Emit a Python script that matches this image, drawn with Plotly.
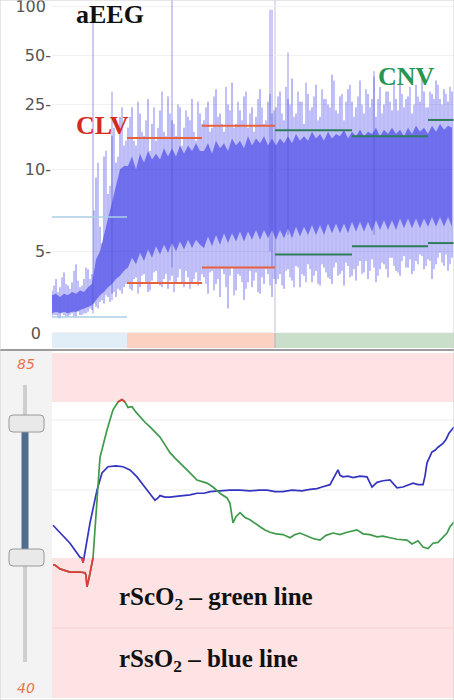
import numpy as np
import plotly.graph_objects as go

W, H = 454, 700

# ---------------- aEEG data (time index, amplitude in µV) ----------------
eeg_t = list(range(0, 401, 4))
eeg_hi = ([2.6, 3.3, 2.8, 3.7, 2.9, 3.1, 4.2, 2.8, 3.3, 3.9, 3.6]
          + [9.5, 6.5, 12, 8.5, 16, 11, 21, 14]
          + [18, 24, 14, 22, 16, 27, 19, 15, 23, 17, 28, 20, 16, 24, 18, 21, 27, 15, 22]
          + [20, 26, 18, 31, 22, 17, 25, 34, 19, 23, 28, 18, 24, 21, 31, 19, 26, 22]
          + [24, 30, 20, 27, 36, 22, 26, 19, 29, 24, 33, 21, 27, 25, 38, 23, 28, 20, 31, 26,
             24, 35, 22, 29, 27, 21, 32, 25, 30, 23, 27, 36, 24, 28, 22, 33, 26, 30, 24, 29,
             35, 27, 31, 26, 30])
eeg_lo = ([1.0, 1.1, 0.9, 1.1, 1.0, 1.2, 1.0, 1.1, 1.2, 1.3, 1.4]
          + [1.6, 1.9, 1.8, 2.2, 2.4, 2.2, 2.6, 2.8]
          + [3.0, 2.6, 3.4, 2.8, 3.6, 2.5, 3.2, 3.8, 2.9, 3.3, 2.7, 3.5, 3.0, 3.9, 2.8, 3.4, 3.1, 3.7, 3.2]
          + [3.4, 2.4, 3.8, 3.0, 2.2, 3.6, 1.5, 4.0, 2.6, 3.5, 2.0, 3.1, 2.8, 3.7, 2.4, 3.0, 3.6, 2.2]
          + [3.0, 3.6, 2.7, 3.9, 3.2, 4.1, 2.8, 3.5, 4.2, 3.1, 3.8, 2.9, 4.0, 3.4, 3.0, 4.3, 3.6, 2.9, 4.1, 3.5,
             3.2, 4.4, 3.7, 3.3, 4.5, 3.1, 3.9, 4.2, 3.4, 4.6, 3.8, 3.5, 4.7, 4.0, 3.6, 4.4, 4.8, 3.9, 4.5, 3.3,
             4.2, 4.9, 4.1, 3.8, 4.6])
eeg_t2 = list(range(2, 399, 4))
eeg_hi2 = ([2.9, 2.5, 3.4, 3.0, 2.7, 3.8, 3.2, 2.9, 4.0, 3.3]
           + [7.5, 11, 5.5, 13, 9, 18, 12, 24, 15]
           + [21, 15, 26, 17, 20, 13, 24, 18, 30, 16, 22, 19, 25, 14, 23, 20, 17, 26, 19]
           + [24, 17, 28, 21, 19, 32, 23, 18, 26, 20, 30, 22, 17, 27, 24, 20, 29, 23]
           + [28, 22, 32, 25, 21, 30, 26, 34, 23, 28, 20, 31, 27, 24, 35, 22, 29, 26, 33, 21,
              28, 25, 31, 24, 37, 27, 22, 30, 26, 34, 23, 29, 27, 32, 25, 28, 36, 24, 30, 27,
              33, 25, 29, 32])
eeg_lo2 = ([1.1, 0.9, 1.2, 1.0, 1.1, 1.0, 1.3, 1.1, 1.2, 1.5]
           + [1.8, 1.5, 2.0, 2.3, 1.9, 2.5, 2.7, 2.4, 3.0]
           + [2.7, 3.3, 2.4, 3.5, 3.0, 2.6, 3.7, 3.1, 2.8, 3.6, 3.2, 2.5, 3.4, 3.0, 3.8, 2.7, 3.3, 2.9, 3.6]
           + [3.0, 3.7, 2.6, 3.3, 3.9, 2.8, 3.5, 2.3, 3.6, 3.1, 2.7, 3.8, 3.2, 2.5, 3.4, 3.9, 2.9, 3.3]
           + [3.3, 2.9, 3.8, 3.4, 2.8, 4.0, 3.6, 3.1, 3.9, 3.5, 3.0, 4.2, 3.7, 3.3, 4.0, 3.5, 3.8, 4.3, 3.4, 3.9,
              4.1, 3.6, 4.4, 3.8, 4.0, 3.5, 4.3, 3.9, 4.6, 4.1, 3.7, 4.4, 4.0, 4.5, 3.8, 4.2, 4.7, 4.1, 4.4, 3.9,
              4.6, 4.3, 4.8, 4.2])
eeg_core_top = ([2.3, 2.4, 2.2, 2.4, 2.3, 2.5, 2.4, 2.6, 2.5, 2.8, 3.0]
                + [4.5, 5.0, 6.0, 7.0, 8.0, 9.0, 10, 10.5]
                + [10.5, 12, 10, 12.5, 11, 13, 11.5, 12.5, 11.5, 13.5, 12, 13.5, 12, 14, 12.5, 14, 13, 14.5, 13]
                + [13, 14.5, 12.5, 15, 13.5, 14.5, 13, 15.5, 14, 15, 13.5, 16, 14, 15.5, 14.5, 16, 14, 15.5]
                + [14, 15.5, 14.5, 16, 14.5, 16.5, 15, 16, 15, 17, 15.5, 16.5, 15, 17, 15.5, 16.5, 16, 17.5, 15.5, 17,
                   16, 17.5, 16, 17, 16.5, 18, 16, 17.5, 16.5, 18, 16.5, 17.5, 16, 18, 16.5, 18.5, 17, 18, 16.5, 18.5,
                   17, 19, 17.5, 18.5, 18])
eeg_core_bot = ([1.2, 1.3, 1.2, 1.3, 1.2, 1.3, 1.3, 1.4, 1.5, 1.6, 1.7]
                + [2.0, 2.3, 2.5, 2.8, 3.0, 3.3, 3.5, 3.8]
                + [4.0, 4.6, 4.2, 4.9, 4.4, 5.1, 4.6, 5.3, 4.8, 5.4, 4.9, 5.5, 5.0, 5.6, 5.1, 5.7, 5.2, 5.7, 5.4]
                + [5.2, 5.9, 5.3, 6.0, 5.4, 6.1, 5.5, 6.1, 5.6, 6.2, 5.6, 6.2, 5.7, 6.3, 5.7, 6.3, 5.8, 6.3]
                + [5.7, 6.3, 5.8, 6.4, 5.8, 6.5, 5.9, 6.5, 6.0, 6.6, 6.0, 6.6, 6.0, 6.7, 6.1, 6.7, 6.1, 6.7, 6.1, 6.8,
                   6.2, 6.8, 6.2, 6.8, 6.2, 6.9, 6.3, 6.9, 6.3, 6.9, 6.3, 7.0, 6.4, 7.0, 6.4, 7.0, 6.4, 7.0, 6.5, 7.1,
                   6.5, 7.1, 6.5, 7.1, 6.5])

# artefact spikes
art_t = [41, 60, 120, 218, 220, 236, 322]
art_hi = [100, 30, 110, 95, 95, 52, 40]
art_lo = [1.2, 2.0, 4.0, 5.0, 4.0, 6.0, 6.0]

# upper / lower margin segments
mg_start = [0, 75, 150, 223, 300, 376]
mg_end = [75, 150, 223, 300, 376, 402]
mg_upper = [7.1, 15.6, 18.5, 17.4, 16.0, 20.1]
mg_lower = [0.98, 3.06, 4.0, 4.8, 5.3, 5.5]
mg_color = ['#a9cfe6', '#e8613c', '#e8613c', '#2e7d5b', '#2e7d5b', '#2e7d5b']

# background classification strip
seg_start = [0, 75, 223]
seg_end = [75, 223, 402]
seg_color = ['#e2eef7', '#fbd2c2', '#c9dfca']

eeg_ticks = [0, 5, 10, 25, 50, 100]
eeg_ticktext = ['0\u00a0\u00a0', '5-', '10-', '25-', '50-', '100\u00a0']

# ---------------- NIRS data ----------------
rsc_t = [1, 3, 8, 18, 28, 33, 34, 35, 37, 39, 41, 48, 55, 61, 66, 70, 73, 76, 80, 84,
         88, 93, 98, 103, 108, 113, 118, 123, 128, 133, 138, 145, 150, 155, 161, 168, 175, 178, 181, 184,
         188, 193, 198, 203, 208, 213, 218, 224, 231, 238, 243, 248, 255, 261, 268, 274, 281, 288, 295, 305,
         311, 318, 325, 331, 338, 345, 355, 360, 366, 371, 376, 381, 386, 391, 395, 398, 402]
rsc_v = [59.1, 59.1, 58.6, 58.2, 58.2, 58.1, 57.8, 56.3, 57.4, 58.6, 60.0, 72.9, 76.4, 79.0, 80.0, 80.3, 80.0, 79.3, 79.4, 78.7,
         78.1, 77.4, 76.8, 76.2, 75.5, 74.5, 73.5, 72.8, 72.2, 71.5, 70.9, 70.0, 69.8, 69.6, 69.1, 68.3, 67.7, 67.0, 64.5, 65.3,
         65.8, 65.2, 64.9, 64.4, 64.0, 63.6, 63.3, 63.1, 63.0, 62.6, 63.0, 63.2, 62.8, 62.5, 62.3, 62.9, 63.2, 63.0, 63.3, 63.6,
         63.1, 63.0, 62.7, 62.8, 62.6, 62.4, 62.3, 61.8, 62.2, 61.4, 61.2, 61.9, 62.0, 62.7, 63.2, 64.0, 64.6]
rss_t = [1, 8, 18, 28, 30, 31, 32, 38, 45, 50, 56, 64, 71, 78, 85, 91, 98, 103, 106, 108,
         113, 118, 124, 131, 138, 145, 152, 158, 168, 178, 188, 198, 207, 215, 223, 231, 240, 250, 258, 265,
         270, 278, 286, 288, 291, 296, 301, 308, 315, 320, 325, 331, 338, 345, 351, 356, 361, 366, 371, 373,
         375, 380, 383, 386, 391, 394, 397, 402]
rss_v = [64.2, 63.2, 61.9, 60.1, 60.0, 59.4, 60.0, 64.5, 68.7, 70.9, 71.7, 71.8, 71.7, 71.3, 70.4, 69.4, 68.3, 67.4, 67.7, 68.0,
         67.8, 67.8, 67.9, 68.0, 68.1, 68.3, 68.3, 68.5, 68.6, 68.7, 68.7, 68.6, 68.7, 68.7, 68.5, 68.5, 68.7, 68.6, 68.8, 68.9,
         69.1, 69.4, 71.3, 70.6, 70.4, 70.5, 70.3, 70.5, 70.4, 69.1, 69.7, 69.9, 70.0, 69.0, 69.1, 69.3, 69.6, 69.4, 69.4, 70.5,
         72.2, 73.6, 73.8, 74.2, 74.7, 75.2, 76.0, 76.8]
nirs_low_thr = 60
nirs_high_thr = 80


def aeeg_scale(v):
    v = np.asarray(v, dtype=float)
    return np.where(v <= 10, v / 10.0, 1 + np.log10(np.maximum(v, 10) / 10.0))


def px(x):
    return x / W


def py(y):
    return 1 - y / H


def segs(xs, y0s, y1s):
    X, Y = [], []
    for x, a, b in zip(xs, y0s, y1s):
        X += [x, x, None]
        Y += [a, b, None]
    return X, Y


def hsegs(x0s, x1s, ys):
    X, Y = [], []
    for a, b, y in zip(x0s, x1s, ys):
        X += [a, b, None]
        Y += [y, y, None]
    return X, Y


def alarm(vals):
    return [v if (v <= nirs_low_thr or v >= nirs_high_thr) else None for v in vals]


fig = go.Figure()

# core band of aEEG
fig.add_trace(go.Scatter(x=eeg_t, y=aeeg_scale(eeg_core_bot), mode='lines', line=dict(width=0, color='rgba(0,0,0,0)'),
                         hoverinfo='skip', showlegend=False, xaxis='x', yaxis='y'))
fig.add_trace(go.Scatter(x=eeg_t, y=aeeg_scale(eeg_core_top), mode='lines', line=dict(width=0, color='rgba(0,0,0,0)'),
                         fill='tonexty', fillcolor='rgba(30,30,225,0.5)', hoverinfo='skip', showlegend=False,
                         xaxis='x', yaxis='y'))
# min-max streaks
sx, sy = segs(eeg_t, aeeg_scale(eeg_lo), aeeg_scale(eeg_hi))
fig.add_trace(go.Scatter(x=sx, y=sy, mode='lines', line=dict(width=1, color='rgba(35,35,232,0.62)'),
                         hoverinfo='skip', showlegend=False, xaxis='x', yaxis='y'))
sx2, sy2 = segs(eeg_t2, aeeg_scale(eeg_lo2), aeeg_scale(eeg_hi2))
fig.add_trace(go.Scatter(x=sx2, y=sy2, mode='lines', line=dict(width=1, color='rgba(35,35,232,0.55)'),
                         hoverinfo='skip', showlegend=False, xaxis='x', yaxis='y'))
ax, ay = segs(art_t, aeeg_scale(art_lo), aeeg_scale(art_hi))
fig.add_trace(go.Scatter(x=ax, y=ay, mode='lines', line=dict(width=1, color='rgba(80,80,220,0.6)'),
                         hoverinfo='skip', showlegend=False, xaxis='x', yaxis='y'))
# margins
for c in dict.fromkeys(mg_color):
    idx = [i for i, cc in enumerate(mg_color) if cc == c]
    X1, Y1 = hsegs([mg_start[i] for i in idx], [mg_end[i] for i in idx], aeeg_scale([mg_upper[i] for i in idx]))
    X2, Y2 = hsegs([mg_start[i] for i in idx], [mg_end[i] for i in idx], aeeg_scale([mg_lower[i] for i in idx]))
    fig.add_trace(go.Scatter(x=X1 + X2, y=list(Y1) + list(Y2), mode='lines',
                             line=dict(width=1.5 if c == '#a9cfe6' else 2, color=c),
                             hoverinfo='skip', showlegend=False, xaxis='x', yaxis='y'))

# NIRS lines
fig.add_trace(go.Scatter(x=rss_t, y=rss_v, mode='lines', line=dict(width=1.7, color='#3434c0'),
                         showlegend=False, xaxis='x2', yaxis='y2'))
fig.add_trace(go.Scatter(x=rsc_t, y=rsc_v, mode='lines', line=dict(width=1.7, color='#3f9a4c'),
                         showlegend=False, xaxis='x2', yaxis='y2'))
fig.add_trace(go.Scatter(x=rss_t, y=alarm(rss_v), mode='lines', line=dict(width=1.7, color='#e23a3a'),
                         connectgaps=False, showlegend=False, xaxis='x2', yaxis='y2'))
fig.add_trace(go.Scatter(x=rsc_t, y=alarm(rsc_v), mode='lines', line=dict(width=1.7, color='#e23a3a'),
                         connectgaps=False, showlegend=False, xaxis='x2', yaxis='y2'))

shapes = []
# left slider background
shapes.append(dict(type='rect', xref='paper', yref='paper', x0=0, x1=px(52), y0=py(698), y1=py(351),
                   fillcolor='#f3f3f3', line=dict(width=0), layer='below'))
# classification strip
for a, b, c in zip(seg_start, seg_end, seg_color):
    shapes.append(dict(type='rect', xref='x', yref='y domain', x0=a, x1=b, y0=0, y1=15 / 348,
                       fillcolor=c, line=dict(width=0), layer='below'))
# segment boundary
shapes.append(dict(type='line', xref='x', yref='y domain', x0=seg_start[2], x1=seg_start[2], y0=0, y1=1,
                   line=dict(color='rgba(150,150,195,0.6)', width=1), layer='below'))
# NIRS alarm bands
shapes.append(dict(type='rect', xref='x2 domain', yref='y2', x0=0, x1=1, y0=nirs_high_thr, y1=86.28,
                   fillcolor='#fde3e3', line=dict(width=0), layer='below'))
shapes.append(dict(type='rect', xref='x2 domain', yref='y2', x0=0, x1=1, y0=42.05, y1=nirs_low_thr,
                   fillcolor='#fde3e3', line=dict(width=0), layer='below'))
for yy, col in [(0.806, '#ececec'), (0.603, '#ececec'), (0.203, '#f6d3d3')]:
    shapes.append(dict(type='line', xref='x2 domain', yref='y2 domain', x0=0, x1=1, y0=yy, y1=yy,
                       line=dict(color=col, width=1), layer='below'))
# separator
shapes.append(dict(type='line', xref='paper', yref='paper', x0=0, x1=1, y0=py(350), y1=py(350),
                   line=dict(color='#9c9c9c', width=2)))
# frame
shapes.append(dict(type='rect', xref='paper', yref='paper', x0=0, x1=1, y0=0, y1=1,
                   line=dict(color='#cfcfcf', width=1)))
# slider track
shapes.append(dict(type='line', xref='paper', yref='paper', x0=px(25), x1=px(25), y0=py(385), y1=py(662),
                   line=dict(color='#cfcfcf', width=4)))
shapes.append(dict(type='line', xref='paper', yref='paper', x0=px(25), x1=px(25), y0=py(430), y1=py(551),
                   line=dict(color='#4f6d8c', width=7)))


def handle(y0, y1):
    x0, x1 = 9, 44
    r = 4
    path = (f"M {px(x0 + r)} {py(y0)} L {px(x1 - r)} {py(y0)} Q {px(x1)} {py(y0)} {px(x1)} {py(y0 + r)} "
            f"L {px(x1)} {py(y1 - r)} Q {px(x1)} {py(y1)} {px(x1 - r)} {py(y1)} L {px(x0 + r)} {py(y1)} "
            f"Q {px(x0)} {py(y1)} {px(x0)} {py(y1 - r)} L {px(x0)} {py(y0 + r)} Q {px(x0)} {py(y0)} {px(x0 + r)} {py(y0)} Z")
    return dict(type='path', xref='paper', yref='paper', path=path, fillcolor='#e9e9e9',
                line=dict(color='#9a9a9a', width=1))


shapes.append(handle(415, 432))
shapes.append(handle(549, 566))

serif = 'Liberation Serif'
annotations = [
    dict(text='<b>aEEG</b>', x=px(74), y=py(14), xref='paper', yref='paper', xanchor='left', yanchor='middle',
         showarrow=False, font=dict(family=serif, size=26, color='#111111')),
    dict(text='<b>CLV</b>', x=px(74), y=py(125), xref='paper', yref='paper', xanchor='left', yanchor='middle',
         showarrow=False, font=dict(family=serif, size=26, color='#d42a22')),
    dict(text='<b>CNV</b>', x=px(376), y=py(77), xref='paper', yref='paper', xanchor='left', yanchor='middle',
         showarrow=False, font=dict(family=serif, size=26, color='#2a9550')),
    dict(text='<b>rScO<sub>2</sub> – green line</b>', x=px(117), y=py(598), xref='paper', yref='paper',
         xanchor='left', yanchor='middle', showarrow=False, font=dict(family=serif, size=25, color='#111111')),
    dict(text='<b>rSsO<sub>2</sub> – blue line</b>', x=px(117), y=py(660), xref='paper', yref='paper',
         xanchor='left', yanchor='middle', showarrow=False, font=dict(family=serif, size=25, color='#111111')),
    dict(text='<i>85</i>', x=px(26), y=py(364), xref='paper', yref='paper', xanchor='center', yanchor='middle',
         showarrow=False, font=dict(family='DejaVu Sans', size=14, color='#e8744e')),
    dict(text='<i>40</i>', x=px(26), y=py(688), xref='paper', yref='paper', xanchor='center', yanchor='middle',
         showarrow=False, font=dict(family='DejaVu Sans', size=14, color='#e8744e')),
]

fig.update_layout(
    width=W, height=H, autosize=False,
    margin=dict(l=0, r=0, t=0, b=0),
    paper_bgcolor='white', plot_bgcolor='white',
    showlegend=False,
    shapes=shapes, annotations=annotations,
    xaxis=dict(domain=[px(52), 1], range=[0, 402], showgrid=False, zeroline=False, showticklabels=False,
               anchor='y', fixedrange=True),
    yaxis=dict(domain=[py(348), 1], range=[-0.092, 2.037], tickvals=aeeg_scale(eeg_ticks), ticktext=eeg_ticktext,
               showgrid=True, gridcolor='#f1f1f1', zeroline=False, ticks='', anchor='x', automargin=False,
               ticklabeloverflow='allow',
               tickfont=dict(family='DejaVu Sans', size=16, color='#555555')),
    xaxis2=dict(domain=[px(52), 1], range=[0, 402], showgrid=False, zeroline=False, showticklabels=False,
                anchor='y2'),
    yaxis2=dict(domain=[py(698), py(353)], range=[42.05, 86.28], showgrid=False, zeroline=False,
                showticklabels=False, anchor='x2'),
)

fig.write_html('out.html', config={'displayModeBar': False},
               post_script="document.body.style.margin='0px';document.body.style.overflow='hidden';")
